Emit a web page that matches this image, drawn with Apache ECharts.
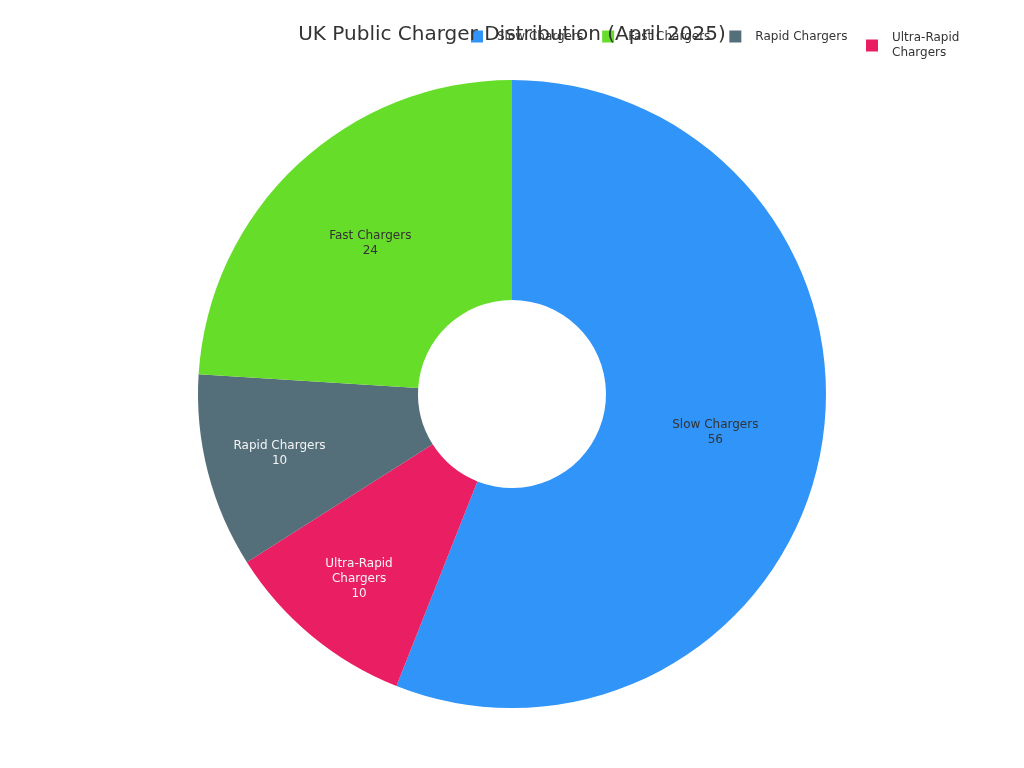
<!DOCTYPE html>
<html>
<head>
<meta charset="utf-8">
<script src="https://cdn.jsdelivr.net/npm/echarts@6/dist/echarts.min.js"></script>
<style>
html,body{margin:0;padding:0;background:#fff;}
#chart{width:1024px;height:768px;}
</style>
</head>
<body>
<div id="chart"></div>
<script>
var titleText = 'UK Public Charger Distribution (April 2025)';
var legendOrder = ['Slow Chargers', 'Fast Chargers', 'Rapid Chargers', 'Ultra-Rapid Chargers'];
var sliceNames = ['Slow Chargers', 'Ultra-Rapid Chargers', 'Rapid Chargers', 'Fast Chargers'];
var sliceValues = [56, 10, 10, 24];
var sliceColors = ['#3094f8', '#e91e63', '#546e7a', '#66dd29'];

function wrapName(name) {
  if (name.length <= 15) return name;
  var i = name.lastIndexOf(' ');
  return name.slice(0, i) + '\n' + name.slice(i + 1);
}
var total = sliceValues.reduce(function (a, b) { return a + b; }, 0);
function isSmall(v) { return v / total < 0.15; }

var labelBase = {
  position: 'inside',
  fontFamily: 'DejaVu Sans',
  fontSize: 12,
  lineHeight: 15,
  formatter: function (p) { return wrapName(p.name) + '\n' + p.value; }
};
var legendText = { fontFamily: 'DejaVu Sans', fontSize: 12, color: '#333', padding: [0, 0, 0, 9], lineHeight: 15 };

var chart = echarts.init(document.getElementById('chart'));
chart.setOption({
  backgroundColor: '#ffffff',
  title: {
    text: titleText,
    left: 'center',
    top: 20,
    textStyle: { fontFamily: 'DejaVu Sans', fontSize: 20, fontWeight: 'normal', color: '#333' }
  },
  legend: [{
    data: legendOrder.filter(function (n) { return n.length <= 15; }),
    left: 471, top: 29, padding: 0,
    itemWidth: 12, itemHeight: 12, itemGap: 19, icon: 'rect',
    textStyle: legendText
  }, {
    data: legendOrder.filter(function (n) { return n.length > 15; }),
    left: 866, top: 28, padding: 0,
    itemWidth: 12, itemHeight: 12, icon: 'rect',
    formatter: function (n) { return wrapName(n); },
    textStyle: { fontFamily: 'DejaVu Sans', fontSize: 12, color: '#333', padding: [5, 0, 0, 9], lineHeight: 15 }
  }],
  series: [{
    type: 'pie',
    center: [512, 394],
    radius: [94, 314],
    startAngle: 90,
    clockwise: true,
    avoidLabelOverlap: false,
    label: labelBase,
    labelLine: { show: false },
    emphasis: { scale: false },
    data: sliceNames.map(function (n, i) {
      return { name: n, value: sliceValues[i], itemStyle: { color: sliceColors[i] },
               label: { show: !isSmall(sliceValues[i]) } };
    })
  }, {
    type: 'pie',
    center: [512, 394],
    radius: [164, 310],
    startAngle: 90,
    clockwise: true,
    silent: true,
    avoidLabelOverlap: false,
    label: Object.assign({}, labelBase, { color: '#f4f4f4', textBorderWidth: 0 }),
    labelLine: { show: false },
    itemStyle: { color: 'rgba(0,0,0,0)' },
    data: sliceNames.map(function (n, i) {
      return { name: n, value: sliceValues[i], label: { show: isSmall(sliceValues[i]) } };
    })
  }]
});
</script>
</body>
</html>
